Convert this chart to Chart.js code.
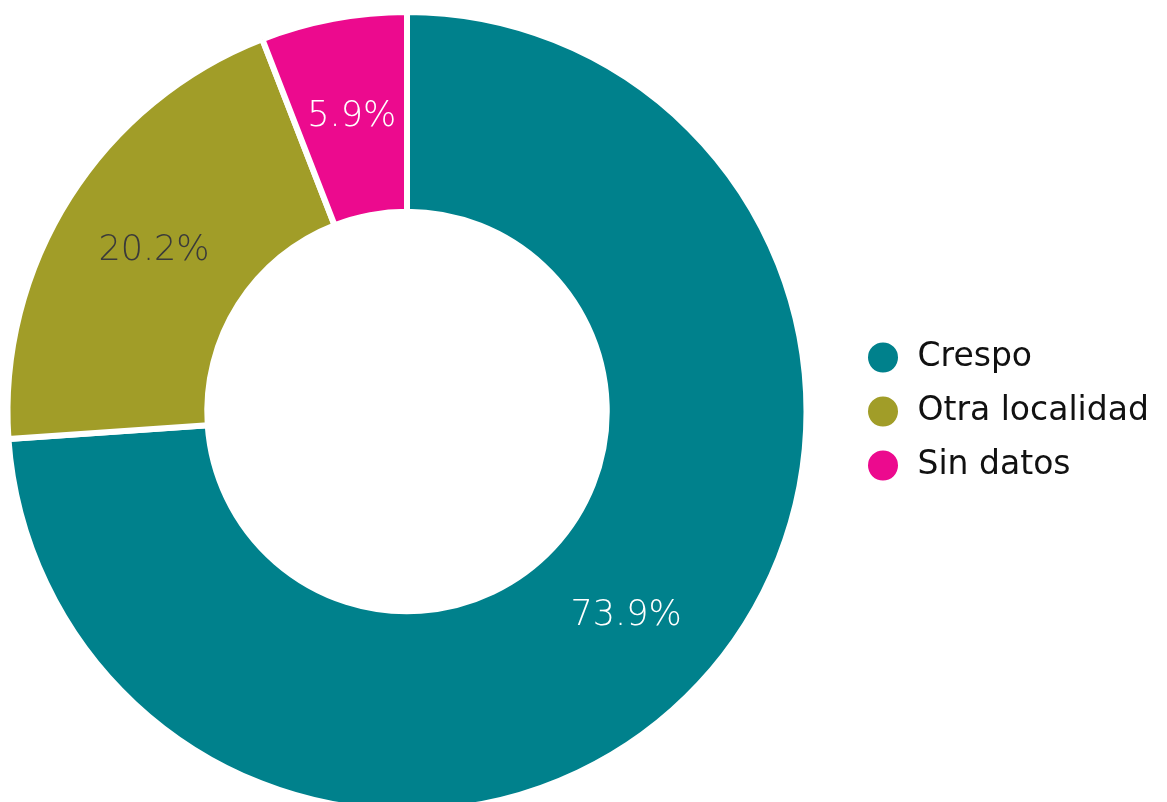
<!DOCTYPE html>
<html>
<head>
<meta charset="utf-8">
<script src="https://cdn.jsdelivr.net/npm/chart.js@4.4.0/dist/chart.umd.min.js"></script>
<style>
html,body{margin:0;padding:0;background:#fff;overflow:hidden;}
#wrap{position:absolute;left:-30px;top:0;width:1197px;height:814px;}
</style>
</head>
<body>
<div id="wrap"><canvas id="c"></canvas></div>
<script>
const categories = ["Crespo", "Otra localidad", "Sin datos"];
const values = [73.9, 20.2, 5.9];
const valueLabels = ["73.9%", "20.2%", "5.9%"];
const sliceColors = ["#00818C", "#A19D28", "#EC0A8E"];
const labelColors = ["#ffffff", "#3a3a3a", "#ffffff"];

// legend geometry
const legendFontSize = 33;
const legendFontFamily = '"DejaVu Sans", sans-serif';
const legendPad = 21;
const legendBox = 36;
const canvasWidth = 1197;
const legendLeftInCanvas = 874;

const mctx = document.createElement('canvas').getContext('2d');
mctx.font = 'normal ' + legendFontSize + 'px ' + legendFontFamily;
const maxText = Math.max(...categories.map(t => mctx.measureText(t).width));
const legendWidth = legendPad + legendBox + legendFontSize / 2 + maxText + 10;
const padRight = Math.max(0, canvasWidth - legendLeftInCanvas - legendWidth);

const labelPlugin = {
  id: 'sliceLabels',
  afterDatasetsDraw(chart) {
    const ctx = chart.ctx;
    const meta = chart.getDatasetMeta(0);
    ctx.save();
    ctx.font = '200 35px "DejaVu Sans", sans-serif';
    ctx.textAlign = 'center';
    ctx.textBaseline = 'middle';
    meta.data.forEach((arc, i) => {
      const p = arc.tooltipPosition();
      ctx.fillStyle = labelColors[i];
      ctx.fillText(valueLabels[i], p.x, p.y);
    });
    ctx.restore();
  }
};

new Chart(document.getElementById('c'), {
  type: 'doughnut',
  data: {
    labels: categories,
    datasets: [{
      data: values,
      backgroundColor: sliceColors,
      borderColor: '#ffffff',
      borderWidth: 6,
      hoverOffset: 0
    }]
  },
  options: {
    responsive: true,
    maintainAspectRatio: false,
    animation: false,
    cutout: '50%',
    layout: { padding: { top: 9, left: 0, right: padRight, bottom: 0 } },
    plugins: {
      tooltip: { enabled: false },
      legend: {
        position: 'right',
        labels: {
          usePointStyle: true,
          pointStyle: 'circle',
          pointStyleWidth: legendBox,
          boxWidth: legendBox,
          boxHeight: 25.5,
          padding: legendPad,
          color: '#111111',
          font: { family: legendFontFamily, size: legendFontSize }
        }
      }
    }
  },
  plugins: [labelPlugin]
});
</script>
</body>
</html>
